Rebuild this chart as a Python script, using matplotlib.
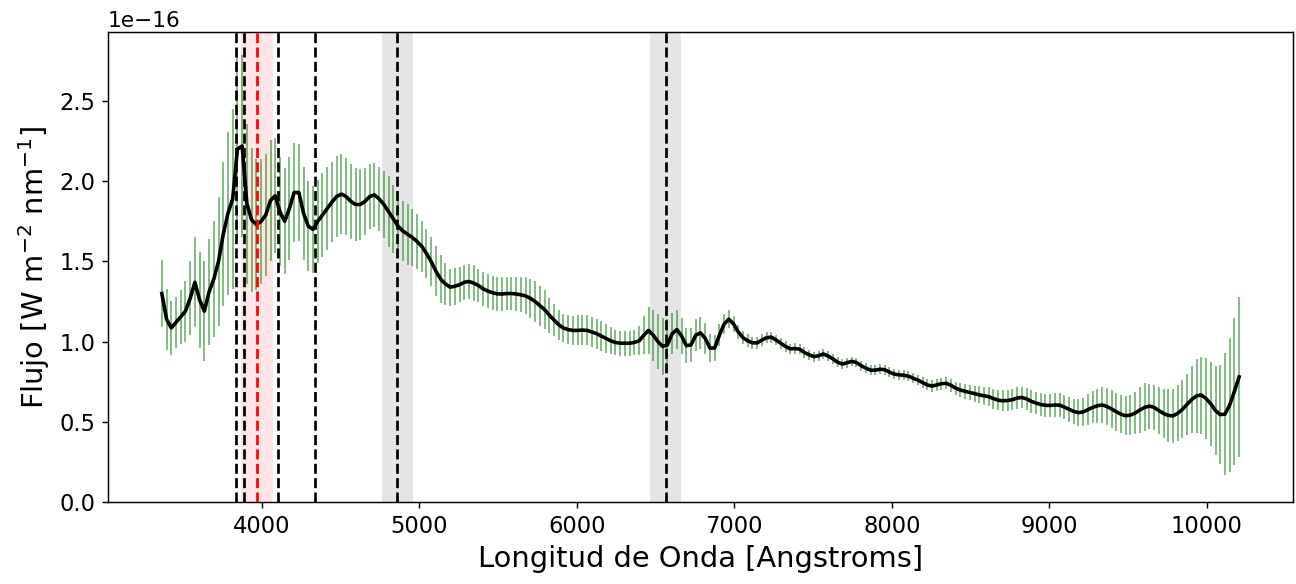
import matplotlib
matplotlib.use("Agg")
import matplotlib.pyplot as plt
import numpy as np

# wavelength grid of the spectrum [Angstrom], one sample every 30 A
wavelength = np.arange(3365, 10206, 30)

# flux in units of 1e-16 W m^-2 nm^-1
flux = [
    1.30, 1.14, 1.085, 1.12, 1.155, 1.19, 1.27, 1.37, 1.26, 1.19,
    1.31, 1.39, 1.50, 1.67, 1.80, 1.89, 2.20, 2.22, 1.86, 1.76,
    1.73, 1.75, 1.79, 1.88, 1.91, 1.81, 1.75, 1.83, 1.93, 1.93,
    1.80, 1.72, 1.70, 1.75, 1.79, 1.83, 1.87, 1.905, 1.92, 1.905,
    1.875, 1.855, 1.855, 1.875, 1.905, 1.915, 1.89, 1.855, 1.81, 1.765,
    1.72, 1.69, 1.67, 1.65, 1.625, 1.595, 1.55, 1.50, 1.44, 1.39,
    1.36, 1.34, 1.345, 1.355, 1.37, 1.375, 1.365, 1.35, 1.33, 1.315,
    1.305, 1.298, 1.297, 1.30, 1.30, 1.297, 1.292, 1.285, 1.27, 1.25,
    1.225, 1.20, 1.165, 1.135, 1.105, 1.085, 1.075, 1.07, 1.07, 1.072,
    1.07, 1.06, 1.05, 1.035, 1.02, 1.005, 0.995, 0.99, 0.99, 0.99,
    0.995, 1.005, 1.04, 1.07, 1.04, 1.00, 0.97, 0.98, 1.05, 1.075,
    1.035, 0.975, 0.98, 1.04, 1.055, 1.02, 0.96, 0.96, 1.04, 1.11,
    1.14, 1.11, 1.06, 1.025, 1.005, 0.993, 0.992, 1.01, 1.025, 1.028,
    1.01, 0.99, 0.97, 0.955, 0.957, 0.953, 0.932, 0.918, 0.907, 0.912,
    0.923, 0.91, 0.893, 0.872, 0.86, 0.868, 0.877, 0.87, 0.85, 0.835,
    0.822, 0.822, 0.828, 0.825, 0.81, 0.798, 0.793, 0.79, 0.785, 0.772,
    0.76, 0.745, 0.73, 0.723, 0.73, 0.738, 0.74, 0.728, 0.71, 0.698,
    0.69, 0.683, 0.676, 0.668, 0.662, 0.657, 0.645, 0.635, 0.631, 0.633,
    0.638, 0.648, 0.652, 0.643, 0.628, 0.617, 0.608, 0.603, 0.602, 0.605,
    0.604, 0.592, 0.578, 0.565, 0.557, 0.562, 0.576, 0.59, 0.60, 0.605,
    0.596, 0.58, 0.563, 0.547, 0.538, 0.542, 0.555, 0.574, 0.59, 0.598,
    0.59, 0.57, 0.552, 0.54, 0.537, 0.553, 0.578, 0.61, 0.64, 0.662,
    0.667, 0.645, 0.612, 0.57, 0.545, 0.548, 0.605, 0.69, 0.78,
]

# 1-sigma flux error, same units
flux_err = [
    0.21, 0.19, 0.17, 0.16, 0.17, 0.19, 0.23, 0.28, 0.30, 0.31,
    0.33, 0.36, 0.40, 0.45, 0.51, 0.56, 0.58, 0.57, 0.50, 0.45,
    0.41, 0.39, 0.38, 0.38, 0.36, 0.34, 0.33, 0.32, 0.31, 0.30,
    0.29, 0.28, 0.27, 0.26, 0.26, 0.26, 0.25, 0.25, 0.25, 0.24,
    0.235, 0.23, 0.22, 0.21, 0.205, 0.20, 0.20, 0.21, 0.22, 0.21,
    0.20, 0.19, 0.19, 0.18, 0.17, 0.16, 0.155, 0.155, 0.155, 0.15,
    0.13, 0.115, 0.115, 0.11, 0.11, 0.11, 0.11, 0.105, 0.105, 0.105,
    0.105, 0.105, 0.105, 0.105, 0.105, 0.105, 0.11, 0.115, 0.12, 0.125,
    0.125, 0.12, 0.11, 0.10, 0.095, 0.09, 0.09, 0.09, 0.093, 0.094,
    0.094, 0.094, 0.094, 0.092, 0.088, 0.085, 0.08, 0.078, 0.078, 0.078,
    0.08, 0.09, 0.12, 0.145, 0.16, 0.17, 0.175, 0.16, 0.13, 0.12,
    0.115, 0.11, 0.105, 0.10, 0.10, 0.095, 0.085, 0.08, 0.07, 0.06,
    0.056, 0.05, 0.045, 0.042, 0.04, 0.038, 0.036, 0.035, 0.034, 0.034,
    0.033, 0.033, 0.033, 0.032, 0.032, 0.032, 0.032, 0.031, 0.031, 0.031,
    0.031, 0.031, 0.031, 0.031, 0.031, 0.03, 0.03, 0.03, 0.03, 0.03,
    0.03, 0.03, 0.03, 0.03, 0.03, 0.03, 0.031, 0.031, 0.031, 0.032,
    0.032, 0.033, 0.034, 0.035, 0.036, 0.037, 0.038, 0.04, 0.041, 0.043,
    0.045, 0.047, 0.05, 0.053, 0.056, 0.06, 0.062, 0.064, 0.065, 0.066,
    0.067, 0.068, 0.068, 0.069, 0.07, 0.071, 0.072, 0.073, 0.074, 0.075,
    0.076, 0.077, 0.078, 0.08, 0.083, 0.088, 0.095, 0.10, 0.107, 0.113,
    0.115, 0.116, 0.118, 0.119, 0.12, 0.125, 0.13, 0.145, 0.15, 0.14,
    0.14, 0.145, 0.155, 0.165, 0.17, 0.175, 0.18, 0.19, 0.21, 0.23,
    0.24, 0.25, 0.26, 0.28, 0.31, 0.38, 0.42, 0.46, 0.50,
]

# marked lines [Angstrom]
black_lines = [3835, 3889, 4102, 4340, 4861, 6563]
red_line = 3970
gray_bands = [(4761, 4961), (6463, 6663)]
red_band = (3870, 4070)

SCALE = 1e-16


def main():
    fl = np.array(flux) * SCALE
    err = np.array(flux_err) * SCALE

    fig, ax = plt.subplots(figsize=(1296 / 130, 584 / 130), dpi=130)
    fig.subplots_adjust(left=0.0833, right=0.9977, top=0.945, bottom=0.1404)

    # shaded windows
    for lo, hi in gray_bands:
        ax.axvspan(lo, hi, color="gray", alpha=0.2, lw=0, zorder=0)
    ax.axvspan(red_band[0], red_band[1], color="red", alpha=0.1, lw=0, zorder=0)

    # spectrum with error bars
    ax.errorbar(wavelength, fl, yerr=err, fmt="none", ecolor="green",
                elinewidth=0.9, alpha=0.6, zorder=1)
    ax.plot(wavelength, fl, color="black", lw=2, zorder=3)

    for wl in black_lines:
        ax.axvline(wl, color="black", ls="--", lw=1.5, zorder=4)
    ax.axvline(red_line, color="red", ls="--", lw=1.5, zorder=4)

    ax.set_ylim(0, 2.93 * SCALE)
    ax.set_xticks([4000, 5000, 6000, 7000, 8000, 9000, 10000])
    ax.tick_params(labelsize=12.5)
    ax.yaxis.get_offset_text().set_fontsize(12)
    ax.set_xlabel("Longitud de Onda [Angstroms]", fontsize=16)
    ax.set_ylabel("Flujo [W m$^{-2}$ nm$^{-1}$]", fontsize=16)

    fig.savefig("out.png", dpi=130)


if __name__ == "__main__":
    main()
